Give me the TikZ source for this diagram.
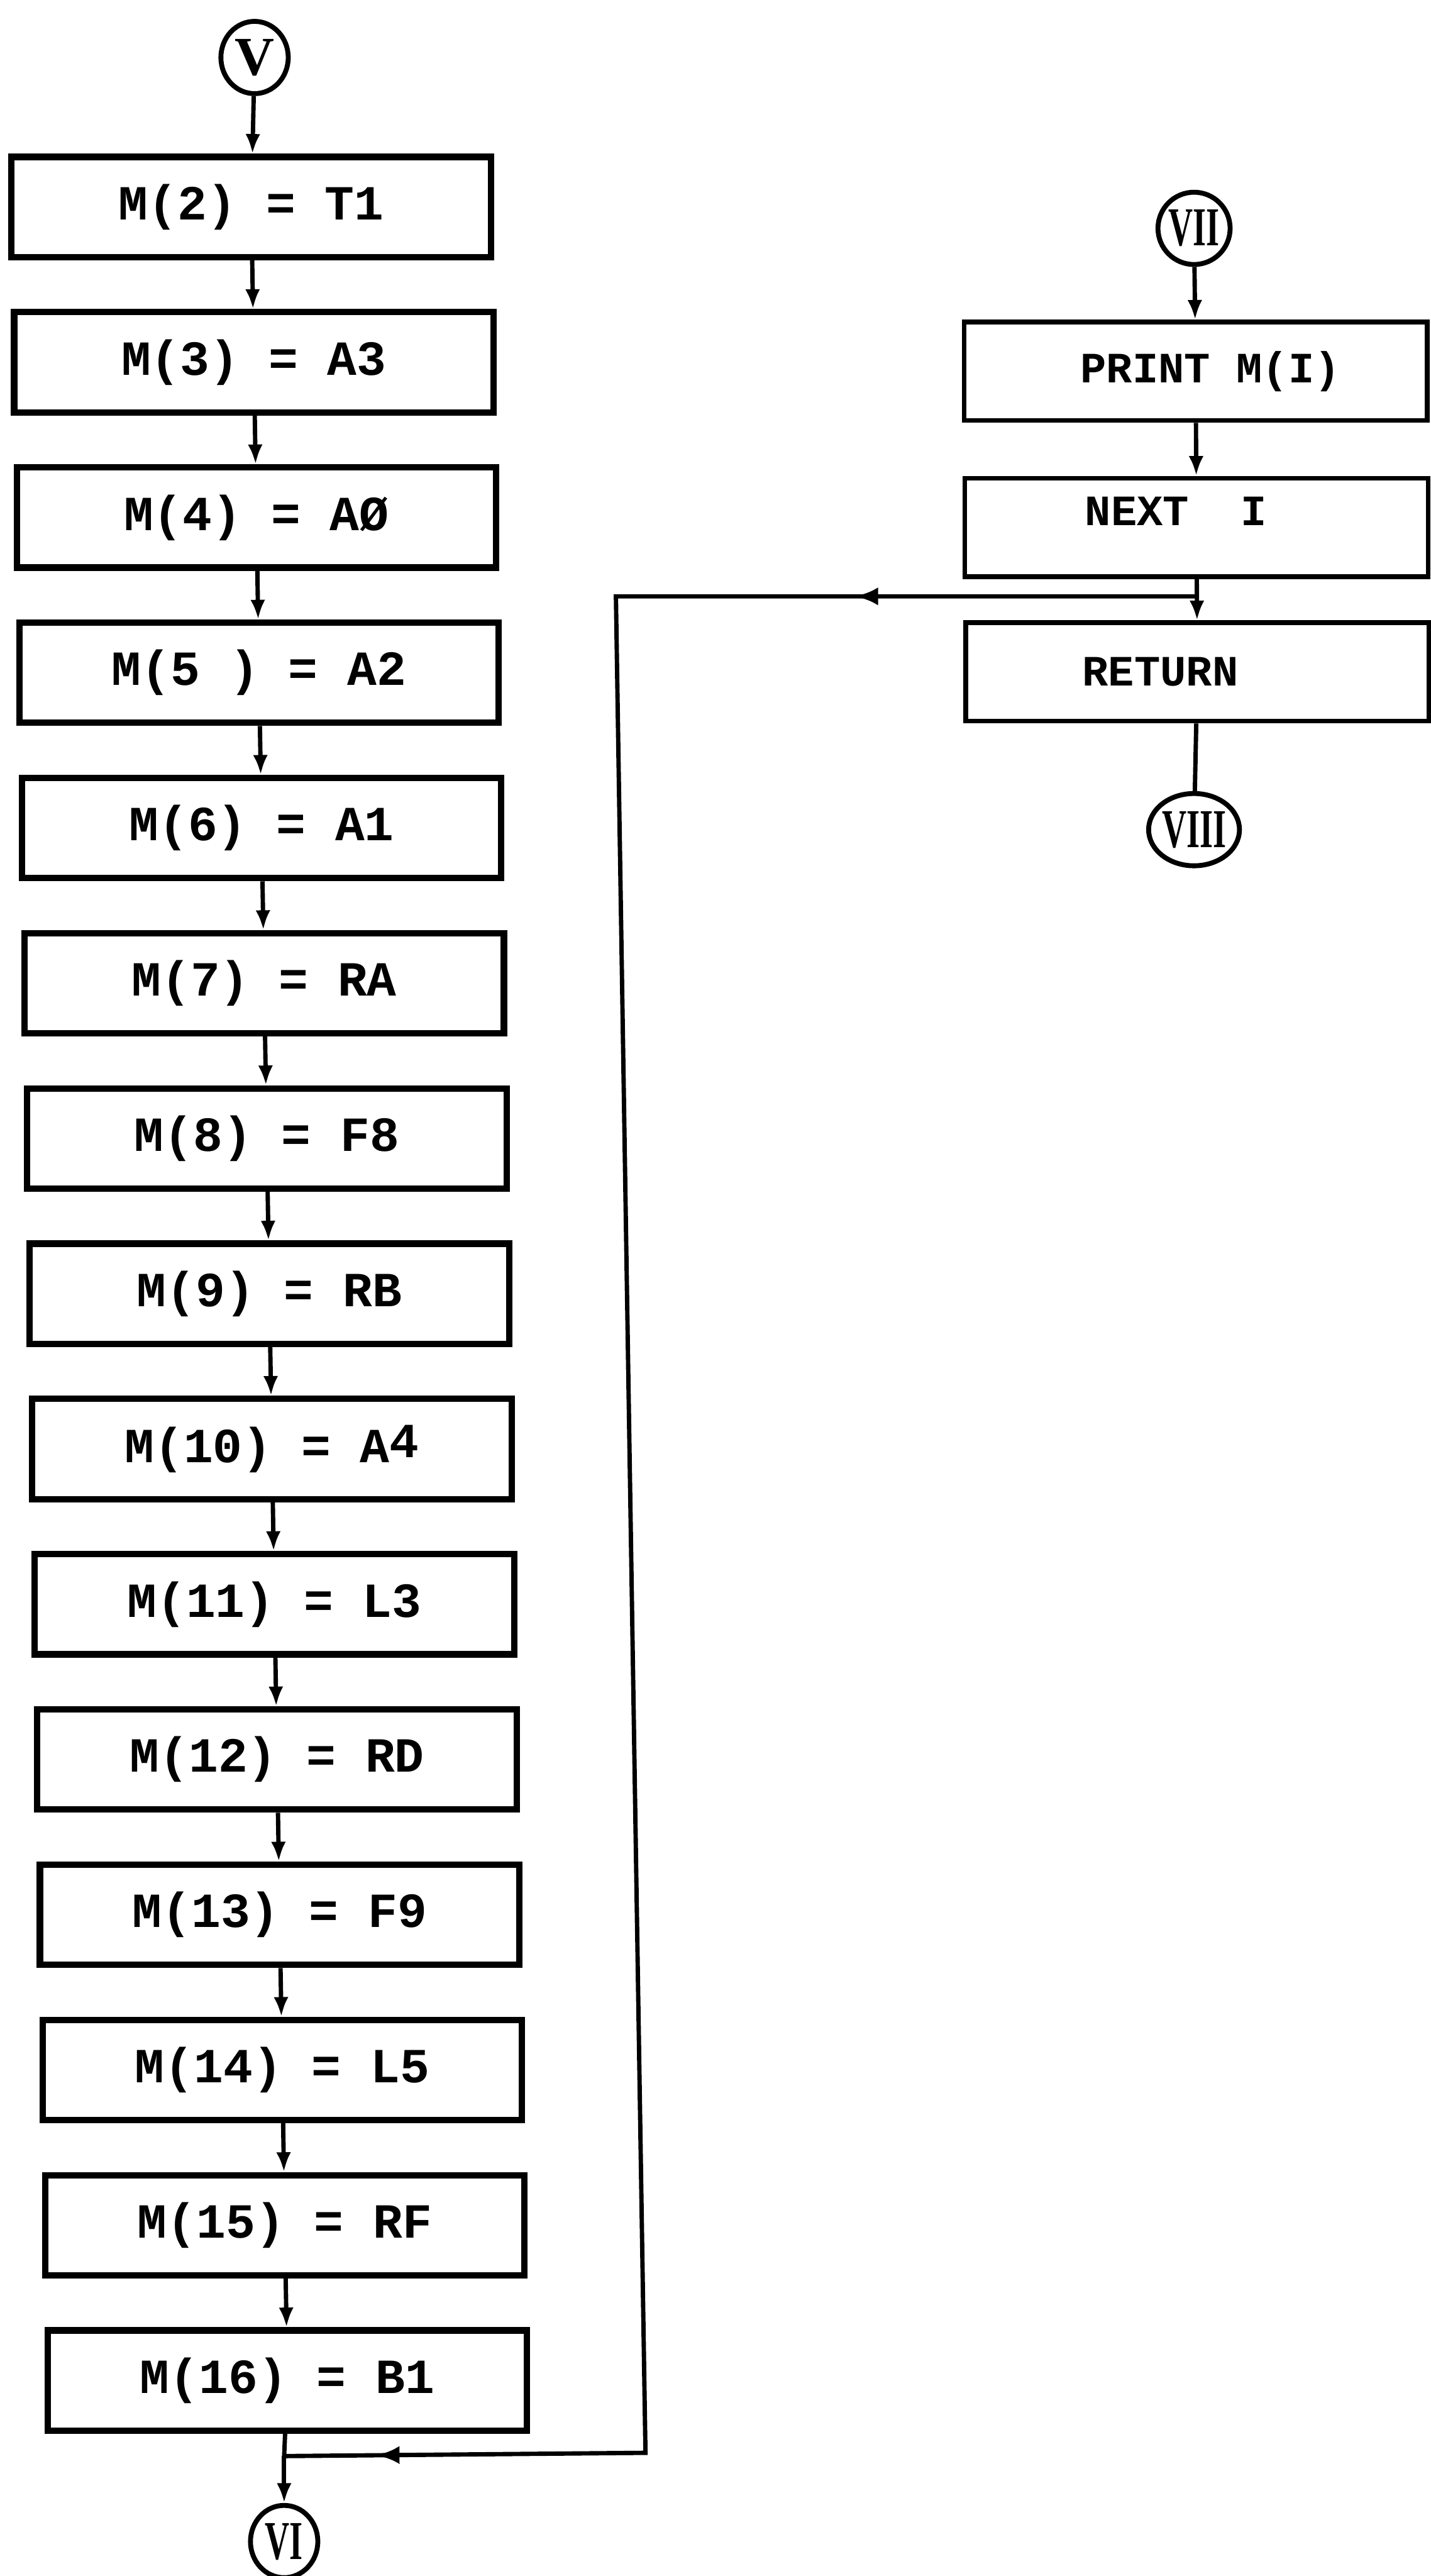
\documentclass[tikz,border=0pt]{standalone}
\usepackage{graphicx}
\usepackage{fontspec}
\setmainfont{Liberation Mono}
\newfontfamily\numfont{Liberation Serif}
\usepackage{tikz}
\usetikzlibrary{positioning, arrows.meta, shapes.geometric, decorations.markings, calc}

\newcommand{\narrow}[1]{\scalebox{0.62}[1]{#1}}

\tikzset{
  stepbox/.style={draw, line width=2.2pt, minimum width=5.84cm, minimum height=1.22cm,
                  inner sep=0pt, font=\fontsize{17}{20}\selectfont\bfseries},
  outbox/.style={draw, line width=1.6pt, minimum width=5.64cm, minimum height=1.2cm,
                 inner sep=0pt, font=\fontsize{15}{18}\selectfont\bfseries},
  conn/.style={ellipse, draw, line width=1.7pt, minimum width=0.82cm, minimum height=0.88cm,
               inner sep=0pt, font=\numfont\fontsize{19}{20}\selectfont\bfseries},
  flow/.style={line width=1.5pt},
  arr/.style={flow, -{Latex[length=2.4mm, width=1.8mm]}},
}

\begin{document}
\begin{tikzpicture}[x=0.02cm, y=-0.02cm]
  \useasboundingbox (0,0) rectangle (871,1568);

  % assignments into M
  \node[conn] (v) at (155,35) {V};
  \foreach \i/\txt in {1/{M(2) = T1}, 2/{M(3) = A3}, 3/{M(4) = AØ}, 4/{M(5 ) = A2},
      5/{M(6) = A1}, 6/{M(7) = RA}, 7/{M(8) = F8}, 8/{M(9) = RB},
      9/{M(10) = A\raisebox{.2ex}{4}}, 10/{M(11) = L3}, 11/{M(12) = RD},
      12/{M(13) = F9}, 13/{M(14) = L5}, 14/{M(15) = RF}, 15/{M(16) = B1}}
    \node[stepbox] (m\i) at ({153+1.57*(\i-1)}, {126+94.5*(\i-1)}) {\txt};
  \draw[arr] (v) -- (m1);
  \foreach \i [count=\j from 2] in {1,...,14}
    \draw[arr] (m\i) -- (m\j);
  \node[conn] (vi) at (173,1547) {\narrow{VI}};
  \coordinate (jl) at (vi.north |- 0,1495);
  \draw[flow] (m15) -- (jl);
  \draw[arr] (jl) -- (vi);

  % print loop
  \node[conn] (vii) at (727,139) {\narrow{VII}};
  \node[outbox] (print) at (728,226) {\hspace*{0.36cm}PRINT M(I)};
  \node[outbox, text height=0.35cm, text depth=0.4cm] (next) at (728.5,321) {NEXT~~I\hspace*{0.5cm}};
  \node[outbox] (ret) at (729,409) {RETURN\hspace*{0.9cm}};
  \node[conn] (viii) at (727,505) {\narrow{VIII}};
  \draw[arr] (vii) -- (print);
  \draw[arr] (print) -- (next);
  \draw[arr] (next) -- (ret);
  \draw[flow] (ret) -- (viii);

  \coordinate (jr) at (next.south |- 0,363);
  \coordinate (lt) at (375,363);
  \coordinate (lb) at (393,1493);
  \draw[flow, line join=miter, postaction={decorate},
        decoration={markings,
          mark=at position 0.122 with {\arrow{Latex[length=2.8mm, width=2.2mm]}},
          mark=at position 0.967 with {\arrow{Latex[length=2.8mm, width=2.2mm]}}}]
    (jr) -- (lt) -- (lb) -- (jl);
\end{tikzpicture}
\end{document}
